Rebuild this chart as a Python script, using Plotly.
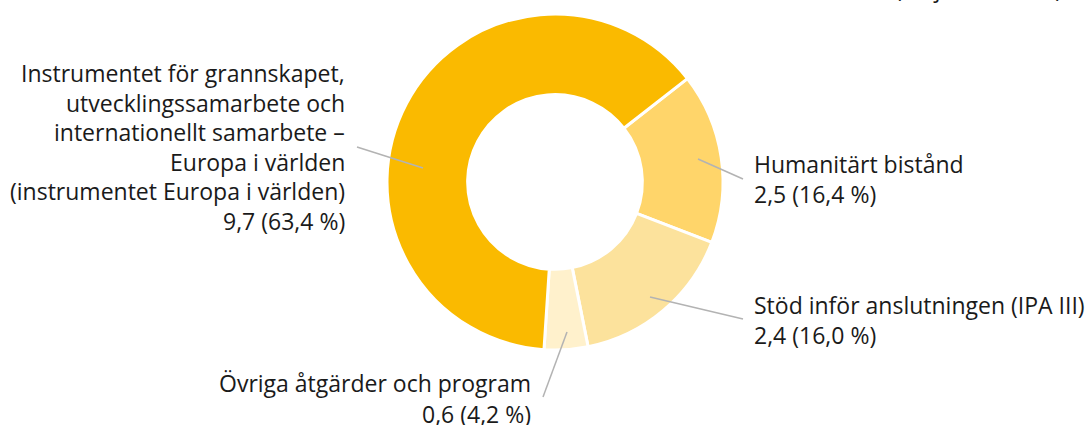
import plotly.graph_objects as go

# ---- data ----
categories = [
    "Humanitärt bistånd",
    "Stöd inför anslutningen (IPA III)",
    "Övriga åtgärder och program",
    "Instrumentet för grannskapet, utvecklingssamarbete och internationellt samarbete – Europa i världen (instrumentet Europa i världen)",
]
label_lines = [
    ["Humanitärt bistånd"],
    ["Stöd inför anslutningen (IPA III)"],
    ["Övriga åtgärder och program"],
    ["Instrumentet för grannskapet,", "utvecklingssamarbete och",
     "internationellt samarbete –", "Europa i världen",
     "(instrumentet Europa i världen)"],
]
values_bn = [2.5, 2.4, 0.6, 9.7]          # miljarder euro
shares_pct = [16.4, 16.0, 4.2, 63.4]      # andel i procent
unit_text = "(miljarder euro)"

colors = ["#FFD56A", "#FCE29C", "#FFF1CC", "#FABA00"]

W, H = 1089, 425
FONT = "Open Sans"
FS = 23


def px(x):
    return x / W


def py(y):
    return 1 - y / H


def sv(v):
    return f"{v:.1f}".replace(".", ",")


cx, cy, R = 555, 182, 168

fig = go.Figure(go.Pie(
    labels=categories,
    values=shares_pct,
    sort=False,
    direction="clockwise",
    rotation=52,
    hole=0.52,
    marker=dict(colors=colors, line=dict(color="white", width=3)),
    textinfo="none",
    hoverinfo="label+value",
    showlegend=False,
    domain=dict(x=[px(cx - R), px(cx + R)], y=[py(cy + R), py(cy - R)]),
))

# label layout: (anchor x, first line y, line step, xanchor)
label_pos = [
    (752, 164, 30, "left"),
    (752, 305, 30, "left"),
    (533, 383, 31, "right"),
    (347, 73, 29.5, "right"),
]
leader_lines = [
    ((698, 159), (743, 179)),
    ((650, 297), (743, 319)),
    ((567, 332), (543, 397)),
    ((423, 168), (357, 147)),
]

annotations = []
for i in range(len(categories)):
    lines = label_lines[i] + [f"{sv(values_bn[i])} ({sv(shares_pct[i])} %)"]
    x0, y0, step, xa = label_pos[i]
    for k, t in enumerate(lines):
        annotations.append(dict(
            x=px(x0), y=py(y0 + k * step), xref="paper", yref="paper",
            text=t, showarrow=False, xanchor=xa, yanchor="middle",
            font=dict(family=FONT, size=FS, color="#1a1a1a"),
        ))

annotations.append(dict(
    x=px(1064), y=py(-12), xref="paper", yref="paper", text=unit_text,
    showarrow=False, xanchor="right", yanchor="middle",
    font=dict(family=FONT, size=FS, color="#1a1a1a"),
))

shapes = []
for (a, b) in leader_lines:
    shapes.append(dict(
        type="line", xref="paper", yref="paper",
        x0=px(a[0]), y0=py(a[1]), x1=px(b[0]), y1=py(b[1]),
        line=dict(color="#B3B3B3", width=1.5),
    ))

fig.update_layout(
    width=W, height=H,
    margin=dict(l=0, r=0, t=0, b=0),
    paper_bgcolor="white", plot_bgcolor="white",
    annotations=annotations, shapes=shapes,
    font=dict(family=FONT),
)

fig.write_html(
    "out.html",
    config={"displayModeBar": False},
    post_script="document.body.style.margin='0';document.body.style.overflow='hidden';",
)
